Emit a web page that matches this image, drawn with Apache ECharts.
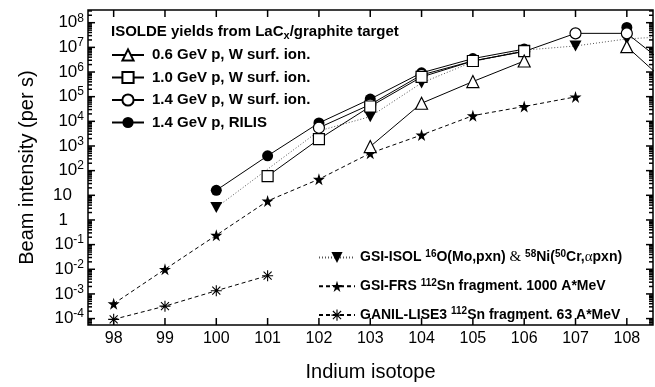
<!DOCTYPE html>
<html>
<head>
<meta charset="utf-8">
<script src="https://cdn.jsdelivr.net/npm/echarts@6/dist/echarts.min.js"></script>
<style>html,body{margin:0;padding:0;background:#fff}#c{width:655px;height:387px;background:#fff}</style>
</head>
<body>
<div id="c"></div>
<script>
// ---- data (Indium isotope mass number -> beam intensity per s) ----
const isotopes = [98, 99, 100, 101, 102, 103, 104, 105, 106, 107, 108, 109];
const N = null;
const w06 = [N, N, N, N, N, 950, 5.4e4, 4.1e5, 2.8e6, N, 1.07e7, 1.4e5];
const w10 = [N, N, N, 60, 1.9e3, 4.0e4, 6.3e5, 2.8e6, 7.0e6, N, N, N];
const w14 = [N, N, N, N, 5.5e3, 4.8e4, 7.6e5, 2.8e6, 6.8e6, 3.7e7, 3.7e7, 8.3e5];
const rilis = [N, N, 16, 400, 8.6e3, 8.0e4, 9.3e5, 3.5e6, 8.5e6, N, 6.4e7, N];
const gsiIsol = [N, N, 3.2, N, 4.1e3, 1.55e4, 3.6e5, 2.6e6, 7.7e6, 1.14e7, 2.2e7, 2.9e7];
const gsiFrs = [4e-4, 1e-2, 0.24, 5.9, 45, 510, 2.8e3, 1.7e4, 4.0e4, 9.8e4, N, N];
const ganil = [9.3e-5, 3.2e-4, 1.35e-3, 5.5e-3, N, N, N, N, N, N, N, N];

const xTicks = [98, 99, 100, 101, 102, 103, 104, 105, 106, 107, 108];
const yTickExps = [-4, -3, -2, -1, 0, 1, 2, 3, 4, 5, 6, 7, 8];

const names = {
  w06: '0.6 GeV p, W surf. ion.',
  w10: '1.0 GeV p, W surf. ion.',
  w14: '1.4 GeV p, W surf. ion.',
  rilis: '1.4 GeV p, RILIS',
  isol: 'GSI-ISOL',
  frs: 'GSI-FRS',
  ganil: 'GANIL-LISE3'
};

// ---- helpers ----
const X_MIN = 97.5, X_MAX = 108.51;
const Y_MIN = -4.26, Y_MAX = 8.515; // log10 extent
const FONT = '"Liberation Sans", Arial, sans-serif';

function pts(arr, connect) {
  const out = [];
  isotopes.forEach((x, i) => {
    const v = arr[i];
    if (v == null) { if (!connect) out.push([x, '-']); }
    else out.push([x, Math.log10(v)]);
  });
  return out;
}
const minorVals = [];
for (let n = -5; n <= 8; n++) {
  for (let k = 2; k <= 9; k++) {
    const v = n + Math.log10(k);
    if (v > Y_MIN && v < Y_MAX) minorVals.push(v);
  }
}

const STAR = 'path://M50,0 L61,35 L98,35 L68,57 L79,91 L50,70 L21,91 L32,57 L2,35 L39,35 Z';
const TRI_DOWN = 'path://M0,0 L100,0 L50,90 Z';
const ASTER = 'path://M45,0 L55,0 L55,100 L45,100 Z M0,45 L100,45 L100,55 L0,55 Z M10,17 L17,10 L90,83 L83,90 Z M83,10 L90,17 L17,90 L10,83 Z';

const hollow = { color: '#fff', borderColor: '#000', borderWidth: 1.2 };
const filled = { color: '#000', borderWidth: 0 };
const solid = { color: '#000', width: 1 };
const dotted = { color: '#555', width: 1, type: [1, 2] };
const dashed = { color: '#000', width: 1, type: [4, 3] };

function mk(name, arr, symbol, size, itemStyle, lineStyle, connect) {
  return {
    type: 'line', name, data: pts(arr, connect), symbol, symbolSize: size,
    itemStyle, lineStyle, connectNulls: !!connect, showAllSymbol: true,
    emphasis: { disabled: true }, animation: false, clip: true
  };
}

// inward frame ticks, placed through the axes' own scales
const tickStyle = { stroke: '#000', lineWidth: 1.5 };
function tickSeries(kind, vals, len) {
  return {
    type: 'custom', silent: true, clip: false, animation: false, z: 5,
    data: vals.map(v => [v]),
    renderItem: (params, api) => {
      const v = api.value(0);
      if (kind === 'x') {
        const a = api.coord([v, Y_MIN]), b = api.coord([v, Y_MAX]);
        return { type: 'group', children: [
          { type: 'line', shape: { x1: a[0], y1: a[1], x2: a[0], y2: a[1] - len }, style: tickStyle },
          { type: 'line', shape: { x1: b[0], y1: b[1], x2: b[0], y2: b[1] + len }, style: tickStyle }
        ] };
      }
      const c = api.coord([X_MIN, v]), d = api.coord([X_MAX, v]);
      return { type: 'group', children: [
        { type: 'line', shape: { x1: c[0], y1: c[1], x2: c[0] + len, y2: c[1] }, style: tickStyle },
        { type: 'line', shape: { x1: d[0], y1: d[1], x2: d[0] - len, y2: d[1] }, style: tickStyle }
      ] };
    }
  };
}

const series = [
  tickSeries('x', xTicks, 7),
  tickSeries('y', yTickExps, 7),
  tickSeries('y', minorVals, 4),
  mk(names.ganil, ganil, ASTER, 11, filled, dashed, false),
  mk(names.frs, gsiFrs, STAR, 12, filled, dashed, false),
  mk(names.isol, gsiIsol, TRI_DOWN, [12, 11], filled, dotted, true),
  mk(names.rilis, rilis, 'circle', 11, filled, solid, false),
  mk(names.w14, w14, 'circle', 11, hollow, solid, false),
  mk(names.w10, w10, 'rect', 11, hollow, solid, false),
  mk(names.w06, w06, 'triangle', 12, hollow, solid, false)
];

const legendRich = {
  b: { fontSize: 14, fontWeight: 'bold', fontFamily: FONT, color: '#000', lineHeight: 16 },
  sup: { fontSize: 10, fontWeight: 'bold', fontFamily: FONT, color: '#000', padding: [0, 0, 7, 0] },
  sym: { fontSize: 15, fontWeight: 'normal', fontFamily: '"Liberation Serif", "DejaVu Serif", serif', color: '#000', lineHeight: 16 }
};

const option = {
  animation: false,
  grid: { left: 88, right: 2, top: 10, bottom: 47, show: true, borderColor: '#000', borderWidth: 1.5 },
  title: {
    left: 111, top: 23, padding: 0,
    text: '{t|ISOLDE yields from LaC}{sub|x}{t|/graphite target}',
    textStyle: {
      rich: {
        t: { fontSize: 15, fontWeight: 'bold', fontFamily: FONT, color: '#000', lineHeight: 18 },
        sub: { fontSize: 11, fontWeight: 'bold', fontFamily: FONT, color: '#000', padding: [7, 0, 0, 0] }
      }
    }
  },
  legend: [
    {
      orient: 'vertical', left: 111, top: 47, padding: 0, itemWidth: 32, itemHeight: 14, itemGap: 6.5,
      data: [names.w06, names.w10, names.w14, names.rilis],
      textStyle: { fontSize: 15, fontWeight: 'bold', fontFamily: FONT, color: '#000', lineHeight: 16, padding: [0, 0, 0, 3] },
      selectedMode: false
    },
    {
      orient: 'vertical', left: 318, top: 249, padding: 0, itemWidth: 36, itemHeight: 14, itemGap: 12.3,
      data: [names.isol, names.frs, names.ganil],
      selectedMode: false,
      formatter: n => {
        if (n === names.isol) return '{b|GSI-ISOL }{sup|16}{b|O(Mo,pxn) }{sym|&}{b| }{sup|58}{b|Ni(}{sup|50}{b|Cr,}{sym|α}{b|pxn)}';
        if (n === names.frs) return '{b|GSI-FRS }{sup|112}{b|Sn fragment. 1000 A*MeV}';
        return '{b|GANIL-LISE3 }{sup|112}{b|Sn fragment. 63 A*MeV}';
      },
      textStyle: { rich: legendRich, lineHeight: 16 }
    }
  ],
  xAxis: [
    {
      type: 'value', position: 'bottom', min: X_MIN, max: X_MAX,
      axisLine: { show: false, onZero: false }, splitLine: { show: false },
      axisTick: { show: false },
      axisLabel: { show: true, customValues: xTicks, margin: 6, fontSize: 16, fontFamily: FONT, color: '#000' },
      name: 'Indium isotope', nameLocation: 'middle', nameGap: 37,
      nameTextStyle: { fontSize: 20, fontFamily: FONT, color: '#000' }
    }
  ],
  yAxis: [
    {
      type: 'value', position: 'left', min: Y_MIN, max: Y_MAX,
      axisLine: { show: false, onZero: false }, splitLine: { show: false },
      axisTick: { show: false },
      axisLabel: {
        show: true, customValues: yTickExps, margin: 4, color: '#000', fontFamily: FONT,
        formatter: v => {
          const e = Math.round(v);
          if (e === 0) return '{b|1}{g1|}';
          if (e === 1) return '{b|10}{g2|}';
          return '{b|10}{s|' + e + '}';
        },
        rich: {
          b: { fontSize: 17, fontFamily: FONT, color: '#000' },
          s: { fontSize: 12, fontFamily: FONT, color: '#000', padding: [0, 0, 9, 0] },
          g1: { width: 16 },
          g2: { width: 12 }
        }
      },
      name: 'Beam intensity (per s)', nameLocation: 'middle', nameGap: 51,
      nameTextStyle: { fontSize: 20, fontFamily: FONT, color: '#000' }
    }
  ],
  series
};

const chart = echarts.init(document.getElementById('c'), null, { renderer: 'canvas' });
chart.setOption(option);
</script>
</body>
</html>
